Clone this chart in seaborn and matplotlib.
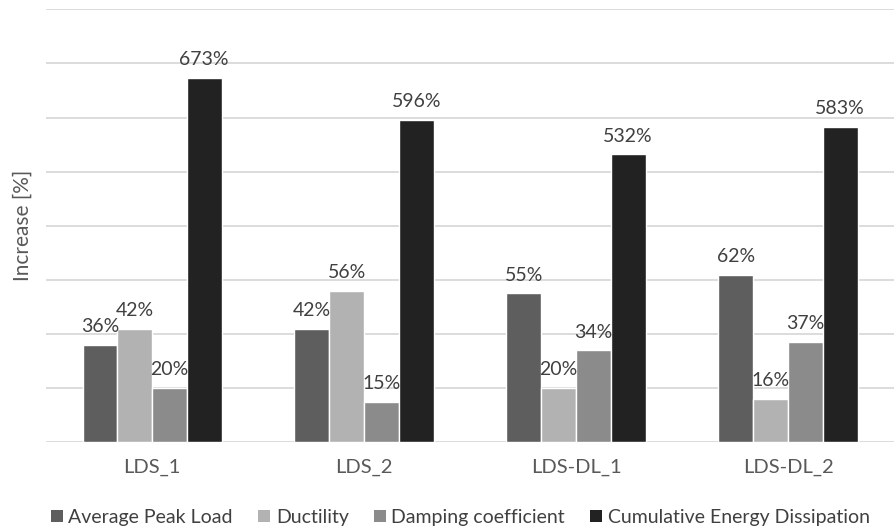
import matplotlib
matplotlib.use("Agg")
import matplotlib.pyplot as plt
from matplotlib.patches import Patch
import pandas as pd
import seaborn as sns

specimens = ["LDS_1", "LDS_2", "LDS-DL_1", "LDS-DL_2"]
series = ["Average Peak Load", "Ductility", "Damping coefficient",
          "Cumulative Energy Dissipation"]
peak_load = [36, 42, 55, 62]
ductility = [42, 56, 20, 16]
damping = [20, 15, 34, 37]
energy = [673, 596, 532, 583]

colors = {
    "Average Peak Load": "#5e5e5e",
    "Ductility": "#b2b2b2",
    "Damping coefficient": "#8b8b8b",
    "Cumulative Energy Dissipation": "#222222",
}

rows = []
for name, vals in zip(series, [peak_load, ductility, damping, energy]):
    for spec, v in zip(specimens, vals):
        rows.append({"Specimen": spec, "Series": name, "Value": v})
df = pd.DataFrame(rows)

sns.set_theme(style="white")
plt.rcParams["font.family"] = ["Lato", "DejaVu Sans"]

fig = plt.figure(figsize=(8.94, 5.32), dpi=100)
ax = fig.add_axes([0.0515, 0.1686, 0.9485, 0.8139])

main_df = df[df["Series"] != series[3]]
energy_df = df[df["Series"] == series[3]]

sns.barplot(data=main_df, x="Specimen", y="Value", hue="Series",
            order=specimens, hue_order=series, palette=colors,
            width=0.656, dodge=True, saturation=1, legend=False, ax=ax)
ax.set_ylim(0, 160)
ax.set_yticks(range(0, 161, 20))
ax.set_yticklabels([])
ax.tick_params(axis="y", length=0)
ax.grid(axis="y", color="#d9d9d9", linewidth=1.3)
ax.set_axisbelow(True)
for s in ax.spines.values():
    s.set_visible(False)
ax.set_xlabel("")
ax.set_ylabel("Increase [%]", fontsize=15, color="#595959", labelpad=6)
ax.tick_params(axis="x", length=0, labelsize=14.5, labelcolor="#595959", pad=12)

# energy dissipation uses its own (hidden) scale, five times the main one
ax2 = ax.twinx()
sns.barplot(data=energy_df, x="Specimen", y="Value", hue="Series",
            order=specimens, hue_order=series, palette=colors,
            width=0.656, dodge=True, saturation=1, legend=False, ax=ax2)
ax2.set_ylim(0, 800)
ax2.set_yticks([])
ax2.set_ylabel("")
for s in ax2.spines.values():
    s.set_visible(False)

# value labels, drawn on the top axes so no bar hides them
for axis in (ax, ax2):
    for cont in axis.containers:
        for bar in cont:
            h = bar.get_height()
            if h != h:
                continue
            ax2.annotate(f"{h:.0f}%",
                         xy=(bar.get_x() + bar.get_width() / 2, h),
                         xycoords=axis.transData,
                         xytext=(0, 7), textcoords="offset points",
                         ha="center", va="bottom",
                         fontsize=14, color="#404040")

handles = [Patch(facecolor=colors[s], edgecolor="none", label=s) for s in series]
fig.legend(handles=handles, loc="center", bbox_to_anchor=(0.515, 0.028),
           ncol=4, frameon=False, fontsize=14, handlelength=0.6,
           handleheight=0.6, handletextpad=0.3, columnspacing=1.3,
           labelcolor="#404040")

fig.savefig("out.png", dpi=100)
